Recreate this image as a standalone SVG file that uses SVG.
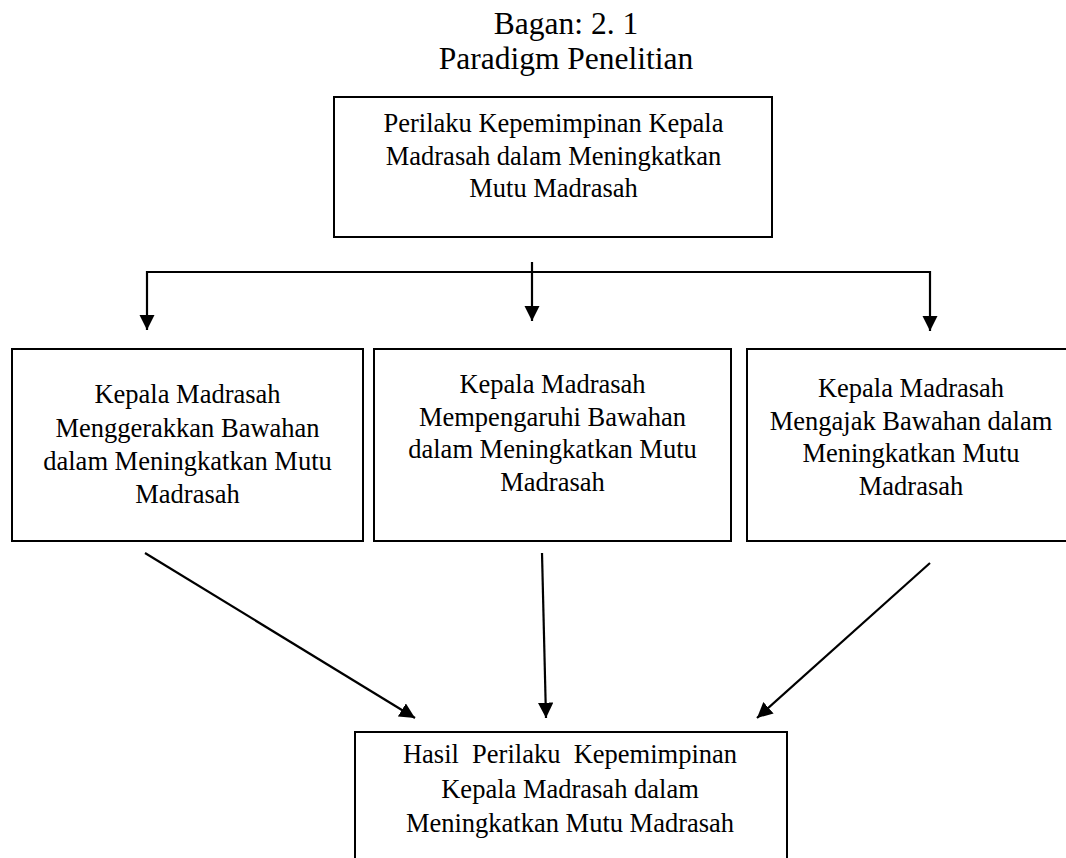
<svg xmlns="http://www.w3.org/2000/svg" width="1066" height="858" viewBox="0 0 1066 858">
<style>
.box{fill:#fff;stroke:#000;stroke-width:2}
.t{font-family:"Liberation Serif","Times New Roman",serif;font-size:26.5px;fill:#000;text-anchor:middle}
.title{font-family:"Liberation Serif","Times New Roman",serif;font-size:31.5px;fill:#000;text-anchor:middle}
.ln{fill:none;stroke:#000;stroke-width:2.2}
</style>
<defs>
<marker id="ah" viewBox="0 0 10 10" refX="10" refY="5" markerWidth="7" markerHeight="7" markerUnits="strokeWidth" orient="auto">
<path d="M0,0 L10,5 L0,10 Z" fill="#000"/>
</marker>
</defs>
<rect width="1066" height="858" fill="#fff"/>
<g id="title">
<text class="title"><tspan x="566" y="34">Bagan: 2. 1</tspan><tspan x="566" y="69">Paradigm Penelitian</tspan></text>
</g>
<g id="node-top">
<rect class="box" x="334" y="97" width="438" height="140"/>
<text class="t"><tspan x="553.5" y="132">Perilaku Kepemimpinan Kepala</tspan><tspan x="553.5" y="165">Madrasah dalam Meningkatkan</tspan><tspan x="553.5" y="197">Mutu Madrasah</tspan></text>
</g>
<g id="node-left">
<rect class="box" x="12" y="349" width="351" height="192"/>
<text class="t"><tspan x="187.5" y="403">Kepala Madrasah</tspan><tspan x="187.5" y="437">Menggerakkan Bawahan</tspan><tspan x="187.5" y="470">dalam Meningkatkan Mutu</tspan><tspan x="187.5" y="503">Madrasah</tspan></text>
</g>
<g id="node-middle">
<rect class="box" x="374" y="349" width="357" height="192"/>
<text class="t"><tspan x="552.5" y="393">Kepala Madrasah</tspan><tspan x="552.5" y="426">Mempengaruhi Bawahan</tspan><tspan x="552.5" y="458">dalam Meningkatkan Mutu</tspan><tspan x="552.5" y="491">Madrasah</tspan></text>
</g>
<g id="node-right">
<rect class="box" x="747" y="349" width="330" height="192"/>
<text class="t"><tspan x="911" y="397">Kepala Madrasah</tspan><tspan x="911" y="430">Mengajak Bawahan dalam</tspan><tspan x="911" y="462">Meningkatkan Mutu</tspan><tspan x="911" y="495">Madrasah</tspan></text>
</g>
<g id="node-bottom">
<rect class="box" x="355" y="732" width="432" height="140"/>
<text class="t" xml:space="preserve"><tspan x="570" y="763">Hasil  Perilaku  Kepemimpinan</tspan><tspan x="570" y="798">Kepala Madrasah dalam</tspan><tspan x="570" y="832">Meningkatkan Mutu Madrasah</tspan></text>
</g>
<g id="connectors">
<polyline class="ln" points="147,272 930,272"/>
<line class="ln" x1="147" y1="271" x2="147" y2="330" marker-end="url(#ah)"/>
<line class="ln" x1="532" y1="262" x2="532" y2="321" marker-end="url(#ah)"/>
<line class="ln" x1="930" y1="271" x2="930" y2="331" marker-end="url(#ah)"/>
<line class="ln" x1="145" y1="553" x2="415" y2="718" marker-end="url(#ah)"/>
<line class="ln" x1="542" y1="553" x2="546" y2="718" marker-end="url(#ah)"/>
<line class="ln" x1="930" y1="563" x2="757" y2="718" marker-end="url(#ah)"/>
</g>
</svg>
